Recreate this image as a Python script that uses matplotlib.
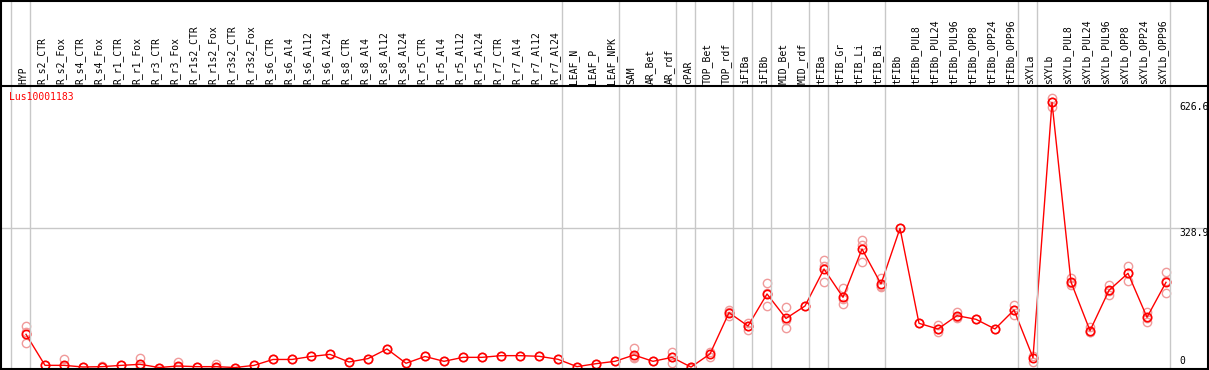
import matplotlib
matplotlib.use("Agg")
import matplotlib.pyplot as plt
import matplotlib.transforms as mtransforms
from matplotlib.lines import Line2D

# ---------------- data ----------------
gene = "Lus10001183"

groups = [
    ["HYP"],
    ["R_s2_CTR", "R_s2_Fox", "R_s4_CTR", "R_s4_Fox", "R_r1_CTR", "R_r1_Fox",
     "R_r3_CTR", "R_r3_Fox", "R_r1s2_CTR", "R_r1s2_Fox", "R_r3s2_CTR", "R_r3s2_Fox",
     "R_s6_CTR", "R_s6_Al4", "R_s6_Al12", "R_s6_Al24",
     "R_s8_CTR", "R_s8_Al4", "R_s8_Al12", "R_s8_Al24",
     "R_r5_CTR", "R_r5_Al4", "R_r5_Al12", "R_r5_Al24",
     "R_r7_CTR", "R_r7_Al4", "R_r7_Al12", "R_r7_Al24"],
    ["LEAF_N", "LEAF_P", "LEAF_NPK"],
    ["SAM", "AR_Bet", "AR_rdf"],
    ["cPAR"],
    ["TOP_Bet", "TOP_rdf"],
    ["iFIBa"],
    ["iFIBb"],
    ["MID_Bet", "MID_rdf"],
    ["tFIBa"],
    ["tFIB_Gr", "tFIB_Li", "tFIB_Bi"],
    ["tFIBb", "tFIBb_PUL8", "tFIBb_PUL24", "tFIBb_PUL96",
     "tFIBb_OPP8", "tFIBb_OPP24", "tFIBb_OPP96"],
    ["sXYLa"],
    ["sXYLb", "sXYLb_PUL8", "sXYLb_PUL24", "sXYLb_PUL96",
     "sXYLb_OPP8", "sXYLb_OPP24", "sXYLb_OPP96"],
]

means = [78.4,
         5.1, 5.1, 1.2, 2.0, 5.0, 7.5, 0.0, 3.5, 2.0, 2.0, 0.0, 5.0,
         19.0, 19.0, 26.0, 31.0, 13.0, 21.0, 43.7, 10.0,
         26.0, 14.6, 24.0, 24.0, 28.0, 28.0, 26.5, 19.4,
         2.0, 9.0, 14.6,
         29.5, 14.6, 24.0,
         1.0,
         32.0, 129.6,
         98.0,
         173.7,
         116.0, 145.3,
         232.7,
         165.9, 280.0, 197.3,
         328.9, 104.4, 91.0, 122.5, 113.9, 91.0, 135.9,
         23.2,
         626.6, 202.0, 87.0, 182.4, 222.6, 118.6, 201.3]

replicates = [[97, 84, 57],
              [5], [19, 3], [1], [4, 1], [5], [22, 3], [0], [12, 1], [2], [7.5, 0], [0], [5],
              [19], [19], [26], [31], [13], [21], [44], [10],
              [26], [15], [24], [24], [28], [28], [26.5], [19],
              [2], [9], [15],
              [45, 22, 25], [15], [37, 11, 24],
              [1, 0],
              [25, 36], [136, 122, 130],
              [106, 89, 99],
              [199, 145, 175],
              [142, 93, 113], [145],
              [254, 203, 240],
              [187, 150, 162], [301, 249, 290], [211, 190, 193],
              [329], [104], [100, 83, 90], [132, 116, 120], [114], [91], [148, 124, 136],
              [14, 28],
              [636, 615, 628], [211, 195, 200], [96, 83, 85], [195, 171, 181], [240, 204, 224], [130, 108, 118], [225, 175, 204]]

ytick_values = [626.6, 328.9, 0]
ytick_labels = ["626.6", "328.9", "0"]

categories = [c for g in groups for c in g]

# ---------------- layout ----------------
W, H = 1209, 370
fig = plt.figure(figsize=(W / 100, H / 100), dpi=100)
ax = fig.add_axes([0, 0, 1, 1])
ax.set_axis_off()

X0, DX = 26.0, 19.0          # pixel of first category, spacing
Y0, SY = 367.5, 0.4232       # pixel (from top) of value 0, px per unit
ax.set_xlim(-X0 / DX, (W - X0) / DX)
ax.set_ylim(-(H - Y0) / SY, Y0 / SY)

fy = lambda ptop: 1 - ptop / H      # top-based pixel -> figure fraction
fx = lambda p: p / W
blend_x = mtransforms.blended_transform_factory(ax.transData, fig.transFigure)
blend_y = mtransforms.blended_transform_factory(fig.transFigure, ax.transData)

font = dict(family="DejaVu Sans Mono", fontsize=7)
grey = "#c8c8c8"

# group separators
bound = [0]
for g in groups:
    bound.append(bound[-1] + len(g))
for b in bound:
    xb = b - 15 / DX
    fig.add_artist(Line2D([xb, xb], [fy(0), fy(369)], transform=blend_x,
                          color=grey, lw=1, zorder=1))

# horizontal grid line at the middle value
ax.axhline(ytick_values[1], color=grey, lw=1, zorder=1)

# black frame
k = dict(color="black", lw=1.5, zorder=5)
fig.add_artist(Line2D([fx(1), fx(1)], [fy(0), fy(369)], **k))
fig.add_artist(Line2D([fx(1208), fx(1208)], [fy(0), fy(369)], **k))
fig.add_artist(Line2D([fx(0), fx(1209)], [fy(0.5), fy(0.5)], **k))
fig.add_artist(Line2D([fx(0), fx(1209)], [fy(368.8), fy(368.8)], **k))
fig.add_artist(Line2D([fx(1), fx(1208)], [fy(85.5), fy(85.5)], **k))

# category labels
for i, c in enumerate(categories):
    ax.text(i - 0.16, fy(84), c, rotation=90, ha="center", va="bottom",
            transform=blend_x, color="black", **font)

# y labels
ax.text(fx(1179), ytick_values[0], ytick_labels[0], transform=blend_y,
        ha="left", va="top", **font)
ax.text(fx(1179), ytick_values[1], ytick_labels[1], transform=blend_y,
        ha="left", va="top", **font)
ax.text(fx(1179), fy(366), ytick_labels[2], transform=fig.transFigure,
        ha="left", va="bottom", **font)

# gene name
fig.text(fx(9), fy(92), gene, color="red", ha="left", va="top", **font)

# replicates
for i, reps in enumerate(replicates):
    ax.plot([i] * len(reps), reps, linestyle="none", marker="o", ms=6,
            mfc="none", mec="#f09a9a", mew=1.0, zorder=3, clip_on=False)

# mean line
xs = list(range(len(categories)))
ax.plot(xs, means, color="red", lw=1, marker="o", ms=6, mfc="none",
        mec="red", mew=1.2, zorder=4, clip_on=False)

fig.savefig("out.png", dpi=100)
